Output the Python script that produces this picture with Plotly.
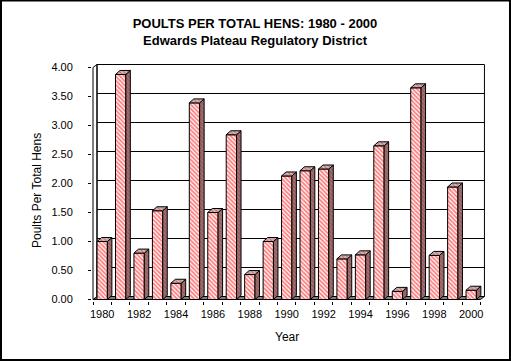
import plotly.graph_objects as go

# ---- data ----
years = list(range(1980, 2001))
poults_per_hen = [1.00, 3.88, 0.80, 1.53, 0.28, 3.39, 1.50, 2.84, 0.43, 1.00,
                  2.13, 2.22, 2.25, 0.70, 0.77, 2.65, 0.14, 3.65, 0.76, 1.94, 0.16]
y_ticks = [0, 0.5, 1.0, 1.5, 2.0, 2.5, 3.0, 3.5, 4.0]
x_label_years = list(range(1980, 2001, 2))

title_line1 = "POULTS PER TOTAL HENS: 1980 - 2000"
title_line2 = "Edwards Plateau Regulatory District"
y_title = "Poults Per Total Hens"
x_title = "Year"

# ---- geometry (pixels -> data) ----
W, H = 511, 361
PX_PER_YEAR = 18.45
PX_PER_UNIT = 58.0
L_MARGIN, R_MARGIN, T_MARGIN, B_MARGIN = 92, 24, 61, 60
plot_w = W - L_MARGIN - R_MARGIN
plot_h = H - T_MARGIN - B_MARGIN
zero_px = 299.5
x_lo = years[0] - 0.5 - 1.0 / PX_PER_YEAR
x_hi = x_lo + plot_w / PX_PER_YEAR
y_lo = -((H - B_MARGIN) - zero_px) / PX_PER_UNIT
y_hi = (zero_px - T_MARGIN) / PX_PER_UNIT

wall_dx = 4.0 / PX_PER_YEAR
wall_dy = 3.0 / PX_PER_UNIT
bar_w = 0.56
bar_dx = 4.5 / PX_PER_YEAR
bar_dy = 4.0 / PX_PER_UNIT

xl = years[0] - 0.5
xr = years[-1] + 0.5
ymax = y_ticks[-1]

RED = "#ff0000"
GRAY = "#808080"
LGRAY = "#c0c0c0"
FONT = "Liberation Sans, Arial, sans-serif"

shapes = []
# floor
shapes.append(dict(type="path", xref="x", yref="y", layer="below",
                   path=f"M{xl},0 L{xr},0 L{xr+wall_dx},{wall_dy} L{xl+wall_dx},{wall_dy} Z",
                   fillcolor=GRAY, line=dict(color="black", width=1)))
# left wall
shapes.append(dict(type="path", xref="x", yref="y", layer="below",
                   path=f"M{xl},0 L{xl},{ymax} L{xl+wall_dx},{ymax+wall_dy} L{xl+wall_dx},{wall_dy} Z",
                   fillcolor="white", line=dict(color="black", width=1)))
# back wall
shapes.append(dict(type="rect", xref="x", yref="y", layer="below",
                   x0=xl + wall_dx, x1=xr + wall_dx, y0=wall_dy, y1=ymax + wall_dy,
                   fillcolor="rgba(0,0,0,0)", line=dict(color="black", width=1)))
# gridlines on back wall
for v in y_ticks[1:-1]:
    shapes.append(dict(type="line", xref="x", yref="y", layer="below",
                       x0=xl + wall_dx, x1=xr + wall_dx, y0=v + wall_dy, y1=v + wall_dy,
                       line=dict(color="black", width=1)))


def px_to_paper_x(p):
    return (p - L_MARGIN) / plot_w


def px_to_paper_y(p):
    return ((H - B_MARGIN) - p) / plot_h


# outer border
shapes.append(dict(type="rect", xref="paper", yref="paper", layer="above",
                   x0=px_to_paper_x(1), x1=px_to_paper_x(510),
                   y0=px_to_paper_y(360), y1=px_to_paper_y(0.5),
                   fillcolor="rgba(0,0,0,0)", line=dict(color="black", width=2)))

fig = go.Figure()

# front faces
fig.add_trace(go.Bar(
    x=years, y=poults_per_hen, width=bar_w,
    marker=dict(color="white",
                line=dict(color="black", width=1),
                pattern=dict(shape="\\", fgcolor=RED, bgcolor="white", size=3, solidity=0.6)),
    hoverinfo="skip"))

# side faces
sx, sy = [], []
for yr, v in zip(years, poults_per_hen):
    x1 = yr + bar_w / 2
    sx += [x1, x1, x1 + bar_dx, x1 + bar_dx, x1, None]
    sy += [0, v, v + bar_dy, bar_dy, 0, None]
fig.add_trace(go.Scatter(
    x=sx, y=sy, mode="lines", fill="toself", fillcolor=GRAY,
    fillpattern=dict(shape="\\", fgcolor=RED, bgcolor=GRAY, size=3, solidity=0.4),
    line=dict(color="black", width=1), hoverinfo="skip"))

# top faces
tx, ty = [], []
for yr, v in zip(years, poults_per_hen):
    x0 = yr - bar_w / 2
    x1 = yr + bar_w / 2
    tx += [x0, x1, x1 + bar_dx, x0 + bar_dx, x0, None]
    ty += [v, v, v + bar_dy, v + bar_dy, v, None]
fig.add_trace(go.Scatter(
    x=tx, y=ty, mode="lines", fill="toself", fillcolor=LGRAY,
    fillpattern=dict(shape="\\", fgcolor=RED, bgcolor=LGRAY, size=3, solidity=0.35),
    line=dict(color="black", width=1), hoverinfo="skip"))

fig.update_layout(
    width=W, height=H,
    margin=dict(l=L_MARGIN, r=R_MARGIN, t=T_MARGIN, b=B_MARGIN),
    paper_bgcolor="white", plot_bgcolor="white",
    showlegend=False, hovermode=False,
    font=dict(family=FONT, size=11, color="black"),
    title=dict(text=f"<b>{title_line1}</b><br><b>{title_line2}</b>",
               x=255 / W, xanchor="center", xref="container",
               y=1 - 28 / H, yanchor="middle", yref="container",
               font=dict(family=FONT, size=13, color="black")),
    xaxis=dict(range=[x_lo, x_hi], showgrid=False, zeroline=False, showline=False,
               tickmode="array", tickvals=x_label_years,
               ticktext=[str(y) for y in x_label_years],
               ticks="", ticklabelstandoff=5,
               tickfont=dict(family=FONT, size=11, color="black"),
               minor=dict(ticks="outside", ticklen=3, tickcolor="black",
                          tickmode="linear", tick0=xl, dtick=1, showgrid=False)),
    yaxis=dict(range=[y_lo, y_hi], showgrid=False, zeroline=False, showline=False,
               tickmode="array", tickvals=y_ticks,
               ticktext=[f"{v:.2f}" for v in y_ticks],
               ticks="outside", ticklen=3, tickcolor="black",
               ticklabelstandoff=13,
               tickfont=dict(family=FONT, size=11, color="black")),
    shapes=shapes,
    annotations=[
        dict(text=y_title, xref="paper", yref="paper",
             x=px_to_paper_x(37), y=px_to_paper_y(191),
             xanchor="center", yanchor="middle", textangle=-90, showarrow=False,
             font=dict(family=FONT, size=12, color="black")),
        dict(text=x_title, xref="paper", yref="paper",
             x=px_to_paper_x(286.5), y=px_to_paper_y(336.7),
             xanchor="center", yanchor="middle", showarrow=False,
             font=dict(family=FONT, size=12, color="black")),
    ],
)

fig.write_html(
    "out.html",
    config={"displayModeBar": False, "staticPlot": True},
    post_script="document.body.style.margin='0';document.body.style.overflow='hidden';",
)
